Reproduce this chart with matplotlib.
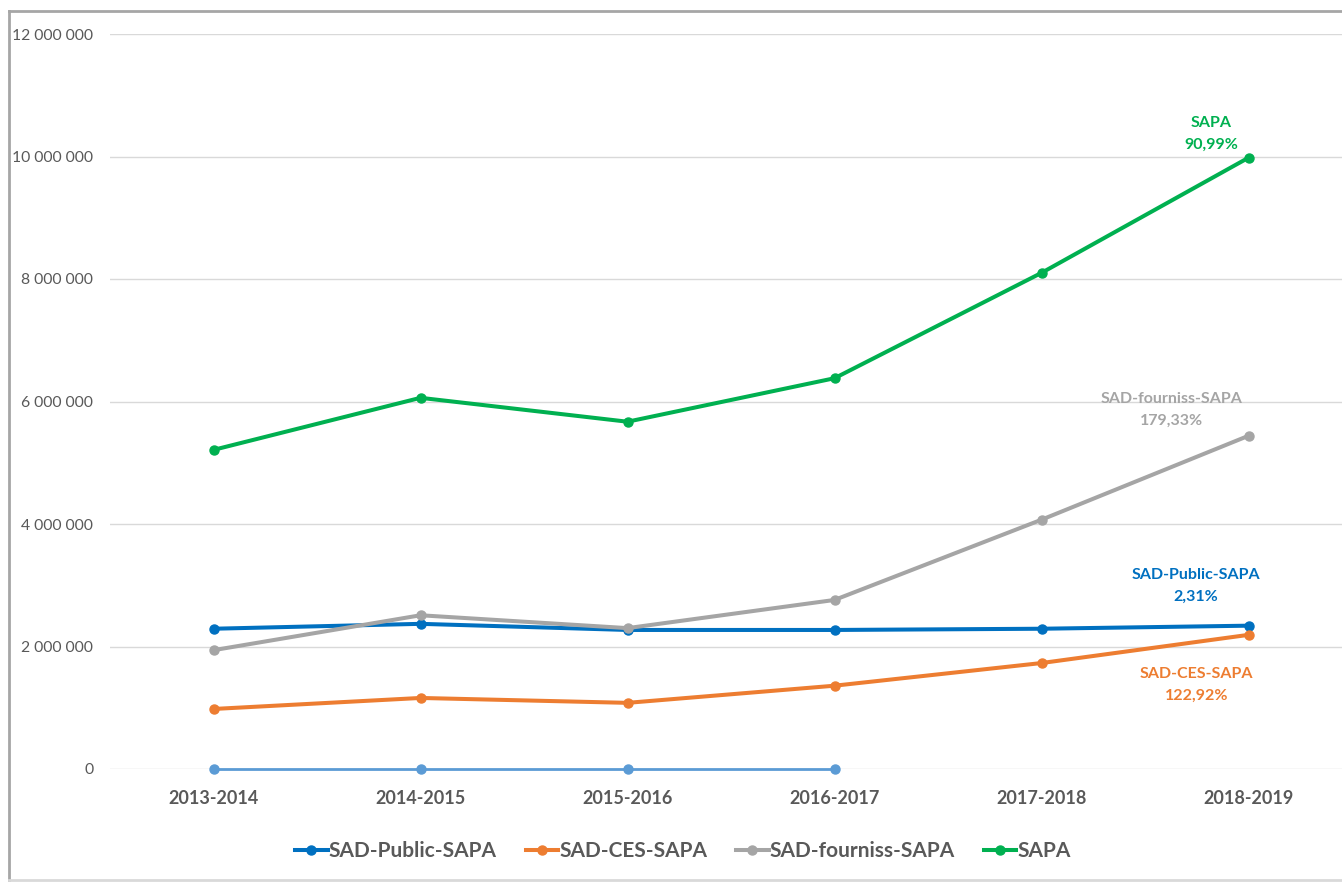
import matplotlib.pyplot as plt
from matplotlib.lines import Line2D

plt.rcParams['font.family'] = ['Lato', 'DejaVu Sans']

annees = ["2013-2014", "2014-2015", "2015-2016", "2016-2017", "2017-2018", "2018-2019"]
sad_public = [2290000, 2370000, 2270000, 2270000, 2290000, 2340000]
sad_ces = [980000, 1160000, 1080000, 1360000, 1730000, 2190000]
sad_fourniss = [1940000, 2510000, 2300000, 2760000, 4070000, 5440000]
sapa = [5210000, 6060000, 5670000, 6380000, 8100000, 9980000]
autre = [0, 0, 0, 0]

noms = ["SAD-Public-SAPA", "SAD-CES-SAPA", "SAD-fourniss-SAPA", "SAPA"]
couleurs = ["#0070C0", "#ED7D31", "#A5A5A5", "#00B050"]
etiquettes = ["SAD-Public-SAPA\n2,31%", "SAD-CES-SAPA\n122,92%", "SAD-fourniss-SAPA\n179,33%", "SAPA\n90,99%"]
decalages = [(-53, 40), (-52, -50), (-77, 26), (-37, 24)]

fig = plt.figure(figsize=(13.42, 8.84), dpi=100)
ax = fig.add_axes([110 / 1342, 1 - 769 / 884, 1242 / 1342, 735 / 884])

x = list(range(len(annees)))
ax.plot(x[:len(autre)], autre, color="#5B9BD5", lw=2, marker="o", markersize=6.5, zorder=2,
        clip_on=False)
series = [sad_public, sad_ces, sad_fourniss, sapa]
for i, s in enumerate(series):
    ax.plot(x, s, color=couleurs[i], lw=2.9, marker="o", markersize=6.5, zorder=3)
    ax.annotate(etiquettes[i], (x[-1], s[-1]), xytext=decalages[i], textcoords="offset pixels",
                ha="center", va="center", color=couleurs[i], fontsize=11.5, fontweight="bold",
                linespacing=1.7)

ax.set_xlim(-0.5, 5.5)
ax.set_ylim(0, 12000000)
ax.set_yticks(range(0, 12000001, 2000000))
ax.set_yticklabels([f"{v:,}".replace(",", " ") for v in range(0, 12000001, 2000000)])
ax.set_xticks(x)
ax.set_xticklabels(annees, fontweight="bold")
ax.tick_params(axis="y", length=0, pad=12, labelsize=11.3, labelcolor="#595959")
ax.tick_params(axis="x", length=0, pad=15, labelsize=13, labelcolor="#595959")
ax.grid(axis="y", color="#D9D9D9", lw=1)
ax.set_axisbelow(True)
for sp in ax.spines.values():
    sp.set_visible(False)

poignees = [Line2D([0], [0], color=c, lw=2.9, marker="o", markersize=6.5) for c in couleurs]
fig.legend(poignees, noms, loc="center", bbox_to_anchor=(683 / 1342, 1 - 851 / 884), ncol=4,
           frameon=False, handlelength=1.55, handletextpad=0.05, columnspacing=1.4,
           prop={"size": 15, "weight": "bold"}, labelcolor="#595959")

# cadre du graphique
fig.add_artist(Line2D([9 / 1342, 9 / 1342], [1 - 880 / 884, 1 - 11 / 884], color="#A6A6A6", lw=2))
fig.add_artist(Line2D([9 / 1342, 1], [1 - 11 / 884, 1 - 11 / 884], color="#A6A6A6", lw=2))
fig.add_artist(Line2D([9 / 1342, 1], [1 - 880 / 884, 1 - 880 / 884], color="#D9D9D9", lw=2))

fig.savefig("out.png", dpi=100)
